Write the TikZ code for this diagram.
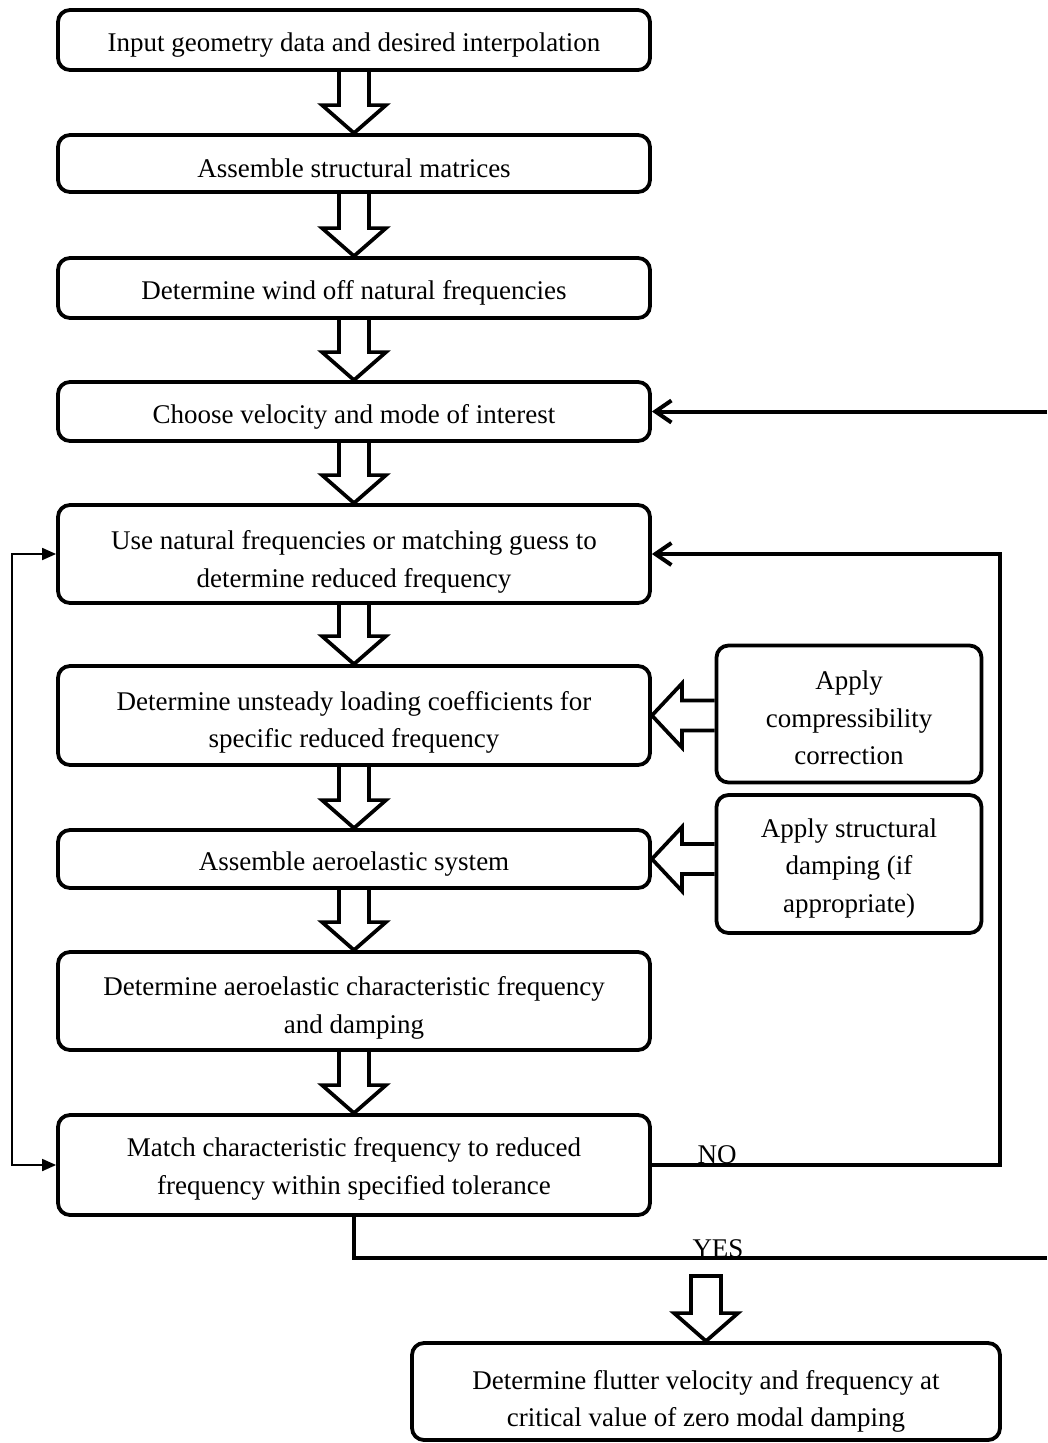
\documentclass[tikz,border=0pt]{standalone}
\usepackage{fontspec}
\setmainfont{Liberation Serif}
\usetikzlibrary{arrows.meta,calc}
\newcommand\blkdown[2]{\draw[barrow] let \p1=(#1.south), \p2=(#2.north) in (\x2-15pt,\y1) -- (\x2-15pt,\y2+28pt) -- (\x2-32pt,\y2+28pt) -- (\x2,\y2) -- (\x2+32pt,\y2+28pt) -- (\x2+15pt,\y2+28pt) -- (\x2+15pt,\y1);}
\newcommand\blkleft[2]{\draw[barrow] let \p1=(#1.west), \p2=(#2.east) in (\x1,\y2+15pt) -- (\x2+30pt,\y2+15pt) -- (\x2+30pt,\y2+32pt) -- (\x2,\y2) -- (\x2+30pt,\y2-32pt) -- (\x2+30pt,\y2-15pt) -- (\x1,\y2-15pt);}
\newcommand\dn[1]{\rule{0pt}{#1pt}}
\begin{document}
\begin{tikzpicture}[x=1pt,y=-1pt,
 box/.style={draw,line width=3.8pt,rounded corners=12pt,align=center,font=\fontsize{27}{37.5}\selectfont,inner sep=0pt,execute at begin node={\rule{0pt}{29pt}}},
 mainbox/.style={box,minimum width=592pt},
 sidebox/.style={box,minimum width=265pt},
 barrow/.style={draw,line width=3.7pt,line join=miter},
 loopline/.style={line width=4pt,-{Straight Barb[length=16pt,width=22pt]}},
 thinline/.style={line width=1.8pt,{Triangle[length=14pt,width=12pt]}-{Triangle[length=14pt,width=12pt]}},
 lbl/.style={font=\fontsize{27}{30}\selectfont,inner sep=0pt,anchor=base},
]
\useasboundingbox (0,0) rectangle (1047,1443);

\node[mainbox,minimum height=60pt] (b1) at (354,40) {Input geometry data and desired interpolation};
\node[mainbox,minimum height=57pt] (b2) at (354,163.5) {Assemble structural matrices};
\node[mainbox,minimum height=60pt] (b3) at (354,288) {Determine wind off natural frequencies};
\node[mainbox,minimum height=59pt] (b4) at (354,411.5) {Choose velocity and mode of interest};
\node[mainbox,minimum height=98pt] (b5) at (354,554) {\dn{35}Use natural frequencies or matching guess to\\determine reduced frequency};
\node[mainbox,minimum height=99pt] (b6) at (354,715.5) {\dn{33}Determine unsteady loading coefficients for\\specific reduced frequency};
\node[mainbox,minimum height=58pt] (b7) at (354,859) {Assemble aeroelastic system};
\node[mainbox,minimum height=98pt] (b8) at (354,1001) {\dn{33}Determine aeroelastic characteristic frequency\\and damping};
\node[mainbox,minimum height=100pt] (b9) at (354,1165) {\dn{27}Match characteristic frequency to reduced\\frequency within specified tolerance};
\node[sidebox,minimum height=137pt] (sA) at (849,714) {\dn{27}Apply\\compressibility\\correction};
\node[sidebox,minimum height=138pt] (sB) at (849,864) {\dn{27}Apply structural\\damping (if\\appropriate)};
\node[box,minimum width=588pt,minimum height=97pt] (b10) at (706,1391.5) {\dn{39}Determine flutter velocity and frequency at\\critical value of zero modal damping};

\blkdown{b1}{b2}
\blkdown{b2}{b3}
\blkdown{b3}{b4}
\blkdown{b4}{b5}
\blkdown{b5}{b6}
\blkdown{b6}{b7}
\blkdown{b7}{b8}
\blkdown{b8}{b9}
\blkleft{sA}{b6}
\blkleft{sB}{b7}

\coordinate (a9) at (705,1276);
\draw[barrow] let \p1=(a9), \p2=(b10.north) in (\x2-15pt,\y1) -- (\x2-15pt,\y2+28pt) -- (\x2-32pt,\y2+28pt) -- (\x2,\y2) -- (\x2+32pt,\y2+28pt) -- (\x2+15pt,\y2+28pt) -- (\x2+15pt,\y1) -- cycle;

\coordinate (rin) at (1047,411.5);
\draw[loopline] (rin) -- (b4.east);
\draw[loopline] (b9.east) -- ++(348,0) |- (b5.east);
\coordinate (lx) at (12,0);
\draw[thinline] (b5.west) -- (lx |- b5.west) -- (lx |- b9.west) -- (b9.west);
\coordinate (yesend) at (1047,1258);
\draw[line width=4pt] (b9.south) |- (yesend);
\node[lbl] (no) at (717,1163) {NO};
\node[lbl] (yes) at (718,1257) {YES};
\end{tikzpicture}
\end{document}
